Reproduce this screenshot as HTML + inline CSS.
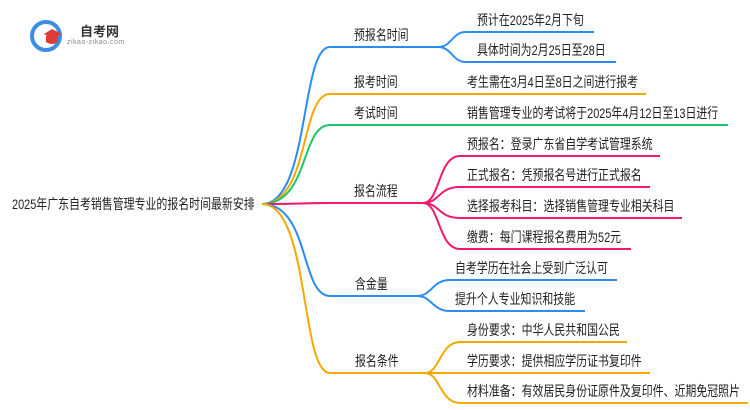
<!DOCTYPE html>
<html><head><meta charset="utf-8"><style>
body{margin:0;width:750px;height:410px;background:#fff;overflow:hidden;position:relative;font-family:"Liberation Sans","Noto Sans CJK SC",sans-serif;}
.t{position:absolute;font-size:14px;color:#222;white-space:nowrap;line-height:16px;transform:scaleX(0.78);transform-origin:0 0}
svg{position:absolute;left:0;top:0}
</style></head><body>
<svg width="750" height="410" fill="none" stroke-width="2">
<circle cx="46" cy="36" r="14" stroke="#3a8ee6" stroke-width="4"/>
<path d="M44 34 L52 29 L62 34 L52 39 Z" fill="#e03c3c" stroke="none"/>
<path d="M46 36 v6 q6 4 12 0 v-6" fill="#e03c3c" stroke="none"/>
<path d="M262 204 C310 204 300 47 330 47 H438" stroke="#2a8cf5"/>
<path d="M262 204 C310 204 300 94 330 94 H646" stroke="#f5a800"/>
<path d="M262 204 C310 204 300 125 330 125 H728" stroke="#1cc46a"/>
<path d="M262 204 C300 204 300 203 330 203 H423" stroke="#f0196e"/>
<path d="M262 204 C310 204 300 296 330 296 H417" stroke="#2a8cf5"/>
<path d="M262 204 C310 204 300 373 330 373 H425" stroke="#f5a800"/>
<path d="M438 47 C452 47 452 32 466 32 H594" stroke="#2a8cf5"/>
<path d="M438 47 C452 47 452 62 466 62 H616" stroke="#2a8cf5"/>
<path d="M423 203 C440 203 438 156 460 156 H660" stroke="#f0196e"/>
<path d="M423 203 C440 203 438 187 460 187 H650" stroke="#f0196e"/>
<path d="M423 203 C440 203 438 218 460 218 H682" stroke="#f0196e"/>
<path d="M423 203 C440 203 438 249 460 249 H631" stroke="#f0196e"/>
<path d="M417 296 C432 296 432 280 450 280 H617" stroke="#2a8cf5"/>
<path d="M417 296 C432 296 432 311 450 311 H585" stroke="#2a8cf5"/>
<path d="M425 373 C440 373 440 342 460 342 H627" stroke="#f5a800"/>
<path d="M425 373 H650" stroke="#f5a800"/>
<path d="M425 373 C440 373 440 403 460 403 H748" stroke="#f5a800"/>
</svg>
<div class="t" style="left:80px;top:24px;font-size:13px;font-weight:bold;color:#333;transform:none">自考网</div>
<div class="t" style="left:67px;top:39px;font-size:7px;line-height:8px;color:#888;letter-spacing:0.5px;transform:none">zikao-zikao.com</div>
<div class="t" style="left:12px;top:196px">2025年广东自考销售管理专业的报名时间最新安排</div>
<div class="t" style="left:354px;top:27px">预报名时间</div>
<div class="t" style="left:354px;top:74px">报考时间</div>
<div class="t" style="left:354px;top:105px">考试时间</div>
<div class="t" style="left:354px;top:183px">报名流程</div>
<div class="t" style="left:355px;top:276px">含金量</div>
<div class="t" style="left:355px;top:353px">报名条件</div>
<div class="t" style="left:477px;top:12px">预计在2025年2月下旬</div>
<div class="t" style="left:477px;top:42px">具体时间为2月25日至28日</div>
<div class="t" style="left:467px;top:74px">考生需在3月4日至8日之间进行报考</div>
<div class="t" style="left:467px;top:105px">销售管理专业的考试将于2025年4月12日至13日进行</div>
<div class="t" style="left:467px;top:136px">预报名：登录广东省自学考试管理系统</div>
<div class="t" style="left:467px;top:167px">正式报名：凭预报名号进行正式报名</div>
<div class="t" style="left:467px;top:198px">选择报考科目：选择销售管理专业相关科目</div>
<div class="t" style="left:467px;top:229px">缴费：每门课程报名费用为52元</div>
<div class="t" style="left:455px;top:260px">自考学历在社会上受到广泛认可</div>
<div class="t" style="left:455px;top:291px">提升个人专业知识和技能</div>
<div class="t" style="left:467px;top:322px">身份要求：中华人民共和国公民</div>
<div class="t" style="left:467px;top:353px">学历要求：提供相应学历证书复印件</div>
<div class="t" style="left:467px;top:383px">材料准备：有效居民身份证原件及复印件、近期免冠照片</div>
</body></html>
